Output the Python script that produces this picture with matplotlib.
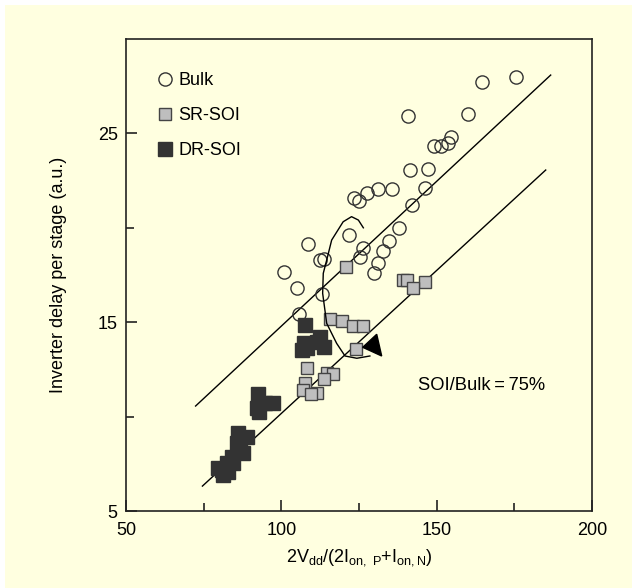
import numpy as np
import matplotlib
matplotlib.use("Agg")
import matplotlib.pyplot as plt
from matplotlib.patches import Rectangle, Polygon

plt.rcParams['font.family'] = ['Liberation Sans', 'DejaVu Sans']
plt.rcParams['mathtext.fontset'] = 'custom'
plt.rcParams['mathtext.rm'] = 'Liberation Sans'
plt.rcParams['mathtext.it'] = 'Liberation Sans:italic'

# Bulk (open circles)
bulk_x = [101.0, 105.1, 105.8, 108.5, 112.4, 113.8, 113.2, 121.8, 123.3, 125.1,
          125.3, 126.4, 127.6, 129.8, 131.2, 131.2, 132.6, 134.7, 135.7, 137.9,
          140.9, 141.4, 142.0, 146.2, 147.1, 149.1, 151.4, 153.7, 154.6, 160.0,
          164.5, 175.4]
bulk_y = [17.64, 16.79, 15.42, 19.13, 18.29, 18.35, 16.48, 19.62, 21.60, 21.43,
          18.43, 18.91, 21.86, 17.59, 18.12, 22.07, 18.75, 19.32, 22.07, 19.97,
          25.94, 23.04, 21.22, 22.09, 23.11, 24.33, 24.33, 24.50, 24.79, 26.03,
          27.74, 28.00]

# SR-SOI (grey squares)
sr_x = [120.7, 139.3, 140.3, 146.2, 142.5, 115.7, 119.6, 123.2, 126.4, 124.0,
        108.2, 114.6, 116.7, 113.8, 107.6, 107.1, 111.6, 109.4]
sr_y = [17.94, 17.24, 17.22, 17.15, 16.80, 15.17, 15.06, 14.80, 14.80, 13.58,
        12.59, 12.33, 12.26, 11.98, 11.76, 11.41, 11.23, 11.18]

# DR-SOI (dark squares)
dr_x = [107.6, 107.3, 106.5, 108.2, 112.4, 113.7, 111.4, 92.6, 92.9, 97.4,
        94.7, 92.1, 86.0, 88.8, 86.7, 85.6, 84.0, 82.4, 80.8, 81.3,
        79.7, 87.6, 84.5, 82.9]
dr_y = [14.85, 13.88, 13.53, 13.62, 14.20, 13.70, 13.97, 11.20, 10.26, 10.74,
        10.74, 10.44, 9.12, 8.94, 8.23, 8.59, 7.88, 7.52, 7.17, 6.91,
        7.26, 8.06, 7.52, 7.08]

# guide lines
upper_x = [72.4, 186.7]
upper_y = [10.56, 28.09]
lower_x = [74.6, 185.1]
lower_y = [6.32, 23.06]

# hand-drawn loop and arrow head
loop_x = [126.4, 124.8, 122.6, 119.9, 116.2, 114.6, 113.5, 113.3, 114.6, 117.8,
          120.5, 124.3, 128.5]
loop_y = [20.00, 20.41, 20.59, 20.32, 19.35, 18.29, 17.59, 16.53, 14.94, 13.88,
          13.21, 13.09, 13.21]
arrow_x = [126.2, 130.7, 132.3]
arrow_y = [13.67, 14.36, 13.21]

bg = '#FFFFE0'
fig = plt.figure(figsize=(6.32, 5.88), dpi=100, facecolor='white')
fig.patches.append(Rectangle((5 / 632, 0), 1, 583 / 588, transform=fig.transFigure,
                             facecolor=bg, edgecolor='none', zorder=-10))
ax = fig.add_axes([126 / 632, 77 / 588, 466 / 632, 472 / 588])
ax.set_facecolor(bg)

ax.plot(upper_x, upper_y, color='black', lw=1.0, zorder=1)
ax.plot(lower_x, lower_y, color='black', lw=1.0, zorder=1)

ax.plot(bulk_x, bulk_y, 'o', ms=9.5, mfc='none', mec='#333333', mew=1.0,
        label='Bulk', zorder=3)
ax.plot(sr_x, sr_y, 's', ms=9.2, mfc='#BEBEBE', mec='#444444', mew=1.0,
        label='SR-SOI', zorder=3)
ax.plot(dr_x, dr_y, 's', ms=9.5, mfc='#333333', mec='#333333', mew=1.0,
        label='DR-SOI', zorder=3)

ax.plot(loop_x, loop_y, color='black', lw=1.0, zorder=4)
ax.add_patch(Polygon(np.column_stack([arrow_x, arrow_y]), closed=True,
                     facecolor='black', edgecolor='black', zorder=5))

ax.text(144.0, 11.67, 'SOI/Bulk\u2009=\u200975%', fontsize=13.2, va='center', ha='left')

ax.set_xlim(50, 200)
ax.set_ylim(5, 30)
ax.set_xticks([50, 100, 150, 200])
ax.set_xticks([75, 125, 175], minor=True)
ax.set_yticks([5, 15, 25])
ax.set_yticks([10, 20], minor=True)
ax.tick_params(which='both', direction='in', width=1.2, labelsize=13, color='#222222')
ax.tick_params(which='major', length=8)
ax.tick_params(which='minor', length=6)
ax.tick_params(axis='x', pad=8)
ax.tick_params(axis='y', pad=6)
for s in ax.spines.values():
    s.set_color('#222222')
    s.set_linewidth(1.2)

ax.set_xlabel('2V$_{\\mathregular{dd}}$/(2I$_{\\mathregular{on,\\ P}}$+I$_{\\mathregular{on,N}}$)',
              fontsize=13, labelpad=6)
ax.set_ylabel('Inverter delay per stage (a.u.)', fontsize=13, labelpad=22)

leg = ax.legend(loc='upper left', bbox_to_anchor=(0.064, 0.93), frameon=False,
                fontsize=13, numpoints=1, handlelength=1.0, handletextpad=0.25,
                labelspacing=1.0, borderpad=0, borderaxespad=0)

fig.savefig('out.png', dpi=100, facecolor=fig.get_facecolor())
